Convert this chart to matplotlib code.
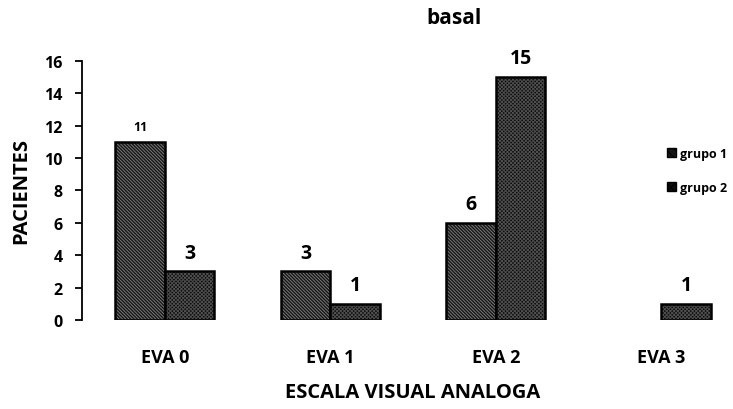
import matplotlib.pyplot as plt
import numpy as np

plt.rcParams['font.family'] = ['Open Sans', 'DejaVu Sans']
plt.rcParams['font.weight'] = 'bold'
plt.rcParams['axes.labelweight'] = 'bold'
plt.rcParams['hatch.linewidth'] = 0.7

categories = ['EVA 0', 'EVA 1', 'EVA 2', 'EVA 3']
grupo1 = [11, 3, 6, 0]
grupo2 = [3, 1, 15, 1]
series_names = ['grupo 1', 'grupo 2']

fig = plt.figure(figsize=(7.33, 4.10), dpi=100)
ax = fig.add_axes([0.112, 0.217, 0.903, 0.632])

x = np.arange(len(categories))
w = 0.30
styles = [('#141414', '#7a7a7a', '\\' * 10), ('#0c0c0c', '#4e4e4e', 'x' * 9)]

for i, (vals, (fc, hc, hatch)) in enumerate(zip([grupo1, grupo2], styles)):
    pos = x + (i - 0.5) * w
    nz = [v > 0 for v in vals]
    p = pos[nz]
    v = np.array(vals)[nz]
    ax.bar(p, v, w, color=fc, edgecolor=hc, hatch=hatch, linewidth=0)
    ax.bar(p, v, w, fill=False, edgecolor='black', linewidth=1.8)
    for px, pv in zip(p, v):
        ax.text(px, pv + 0.55, str(pv), ha='center', va='bottom',
                fontsize=14 if pv != 11 else 9)

ax.set_xlim(-0.5, 3.5)
ax.set_ylim(0, 16)
ax.set_yticks(range(0, 17, 2))
ax.set_xticks(x)
ax.set_xticklabels(categories, fontsize=13)
ax.tick_params(axis='x', length=0, pad=20)
ax.tick_params(axis='y', labelsize=11.5, length=5, width=1.3,
               direction='out', pad=9)
for s in ['top', 'right', 'bottom']:
    ax.spines[s].set_visible(False)
ax.spines['left'].set_linewidth(1.3)

ax.set_ylabel('PACIENTES', fontsize=14.5, labelpad=9)
ax.set_xlabel('ESCALA VISUAL ANALOGA', fontsize=14.5, labelpad=12)
fig.text(0.62, 0.955, 'basal', ha='center', va='center', fontsize=15)

# legend built from the two series
handles = [plt.Rectangle((0, 0), 1, 1, facecolor=fc, edgecolor='black',
                         hatch=h[:4], linewidth=1) for fc, hc, h in styles]
fig.legend(handles, series_names, loc='center left',
           bbox_to_anchor=(0.91, 0.582), frameon=False, fontsize=9,
           handlelength=0.7, handleheight=0.7, handletextpad=0.3,
           labelspacing=1.7, borderaxespad=0, borderpad=0)

fig.savefig('out.png', dpi=100)
